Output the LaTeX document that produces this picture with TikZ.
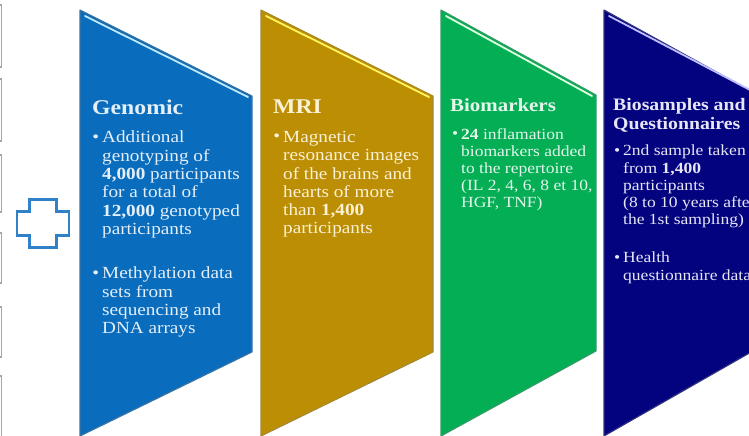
\documentclass[tikz,border=0pt]{standalone}
\usepackage{fontspec}
\setmainfont[FakeStretch=1.13]{Liberation Serif}
\definecolor{cblue}{HTML}{0A6CBD}
\definecolor{cgold}{HTML}{BC8E04}
\definecolor{cgreen}{HTML}{04AE55}
\definecolor{cnavy}{HTML}{03037F}
\definecolor{tblue}{HTML}{E4EFF8}
\definecolor{tgold}{HTML}{FBF1D5}
\definecolor{tgreen}{HTML}{E3F6EB}
\definecolor{tnavy}{HTML}{E6E6F4}
\newcommand{\bul}{\llap{\raisebox{0.5pt}{\scalebox{1.0}{\textbullet}}\hspace{3pt}}}
\tikzset{
  panel/.style={draw=#1!60!gray,line width=1.1pt,line join=round},
  glint/.style={line width=1.8pt,line cap=round},
  stub/.style={draw=gray!70,fill=white,line width=1.4pt},
  head/.style={anchor=north west,inner sep=0pt,font=\fontsize{21}{21}\selectfont\bfseries,align=left},
  body/.style={anchor=north west,inner sep=0pt,font=\fontsize{17}{18.3}\selectfont,align=left},
  small/.style={anchor=north west,inner sep=0pt,font=\fontsize{15.5}{17.1}\selectfont,align=left},
  headb/.style={anchor=north west,inner sep=0pt,font=\fontsize{18.5}{19}\selectfont\bfseries,align=left},
  headc/.style={anchor=north west,inner sep=0pt,font=\fontsize{17.5}{19}\selectfont\bfseries,align=left},
}
\begin{document}
\begin{tikzpicture}[x=1pt,y=-1pt]
\useasboundingbox (0,0) rectangle (749,436);
\fill[white] (0,0) rectangle (749,436);
% partial boxes at the left edge
\foreach \a/\b in {5/67,79/141,155/212,233/283,307/357,376/440}
  \draw[stub] (-5,\a) rectangle (1.5,\b);
% plus
\draw[draw=cblue!85!white,fill=white,line width=2.4pt,line join=miter]
  (29.5,199.5) -- (56.5,199.5) -- (56.5,211.5) -- (69,211.5) -- (69,235.5) -- (56.5,235.5)
  -- (56.5,247.5) -- (29.5,247.5) -- (29.5,235.5) -- (17,235.5) -- (17,211.5) -- (29.5,211.5) -- cycle;
% panels
\draw[panel=cblue,fill=cblue] (80,10) -- (252,96) -- (252,352) -- (80,436) -- cycle;
\draw[glint,color=cyan!25!white] (85,16) -- (248,97);
\draw[panel=cgold,fill=cgold] (261,10) -- (433,96) -- (433,352) -- (261,436) -- cycle;
\draw[glint,color=yellow!65!white] (266,16) -- (429,97);
\draw[panel=cgreen,fill=cgreen] (441,10) -- (596,95) -- (596,351) -- (441,436) -- cycle;
\draw[glint,color=green!12!white] (446,16) -- (592,96);
\draw[panel=cnavy,fill=cnavy] (604,10) -- (760,96) -- (760,347) -- (604,436) -- cycle;
\draw[glint,color=blue!25!white] (609,16) -- (752,91);
% text
\node[head,text=tblue] (g) at (92,99.5) {Genomic};
\node[body,text=tblue] (g1) at (102,131) {\bul Additional\\genotyping of\\\textbf{4,000} participants\\for a total of\\\textbf{12,000} genotyped\\participants};
\node[body,text=tblue] (g2) at (102,267) {\bul Methylation data\\sets from\\sequencing and\\DNA arrays};
\node[head,text=tgold] (m) at (273,99.5) {MRI};
\node[body,text=tgold] (m1) at (283,131) {\bul Magnetic\\resonance images\\of the brains and\\hearts of more\\than \textbf{1,400}\\participants};
\node[headb,text=tgreen] (b) at (450,98) {Biomarkers};
\node[small,text=tgreen] (b1) at (461,128) {\bul \textbf{24} inflamation\\biomarkers added\\to the repertoire\\(IL 2, 4, 6, 8 et 10,\\HGF, TNF)};
\node[headc,text=tnavy] (s) at (613,98) {Biosamples and\\Questionnaires};
\node[small,text=tnavy] (s1) at (623,145) {\bul 2nd sample taken\\from \textbf{1,400}\\participants\\(8 to 10 years after\\the 1st sampling)};
\node[small,text=tnavy] (s2) at (623,252) {\bul Health\\questionnaire data};
\end{tikzpicture}
\end{document}
